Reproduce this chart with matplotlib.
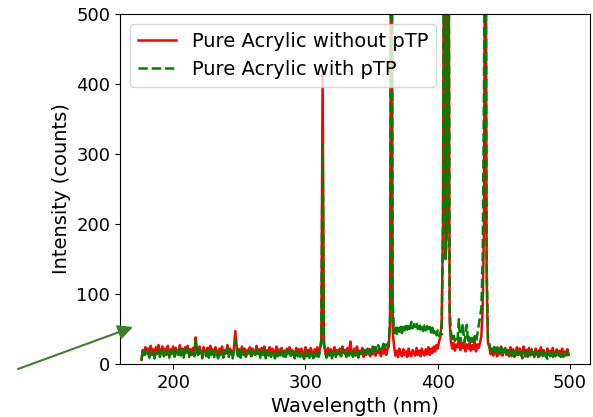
import numpy as np
import matplotlib
matplotlib.use("Agg")
import matplotlib.pyplot as plt

# spectrometer grid, 1 nm steps from 176 to 499 nm
wl_start = 176
wl_stop = 500
wavelength = np.arange(wl_start, wl_stop)
xtick_values = [200, 300, 400, 500]

# Pure acrylic without pTP (counts) (10 nm per row)
without_ptp = [
    6, 20, 13, 24, 15, 22, 12, 26, 17, 21,
    11, 24, 16, 27, 13, 20, 25, 14, 22, 18,
    26, 12, 21, 16, 25, 11, 23, 19, 14, 27,
    15, 22, 12, 24, 18, 26, 13, 21, 16, 23,
    14, 38, 22, 13, 25, 17, 11, 24, 19, 14,
    23, 12, 26, 16, 21, 13, 24, 18, 11, 22,
    17, 25, 12, 20, 15, 27, 13, 22, 18, 11,
    24, 47, 26, 14, 21, 12, 25, 16, 22, 13,
    20, 15, 24, 11, 22, 18, 13, 26, 15, 21,
    12, 23, 17, 25, 11, 20, 16, 24, 13, 22,
    18, 11, 25, 14, 21, 16, 23, 12, 19, 10,
    22, 15, 24, 12, 20, 17, 11, 23, 14, 21,
    13, 22, 16, 10, 24, 15, 20, 12, 23, 17,
    11, 21, 14, 24, 13, 22, 35, 420, 30, 18,
    12, 23, 15, 21, 10, 19, 24, 13, 20, 14,
    22, 11, 25, 16, 20, 12, 23, 15, 32, 17,
    12, 22, 14, 25, 11, 19, 16, 23, 10, 20,
    13, 22, 15, 11, 21, 14, 24, 12, 19, 16,
    22, 11, 20, 15, 24, 13, 21, 25, 60, 900,
    45, 26, 12, 19, 10, 22, 15, 11, 21, 13,
    18, 10, 22, 14, 11, 20, 16, 12, 23, 13,
    19, 11, 22, 15, 12, 21, 14, 24, 13, 22,
    16, 25, 18, 27, 22, 32, 38, 60, 200, 900,
    150, 200, 900, 60, 32, 22, 30, 19, 28, 24,
    35, 20, 30, 23, 33, 18, 28, 22, 30, 19,
    27, 21, 32, 18, 28, 23, 31, 40, 80, 200,
    900, 120, 30, 24, 14, 21, 12, 23, 16, 11,
    22, 14, 25, 12, 19, 23, 13, 20, 11, 24,
    15, 21, 10, 19, 24, 13, 22, 12, 18, 25,
    11, 20, 14, 23, 12, 21, 16, 10, 22, 15,
    19, 11, 24, 13, 20, 15, 10, 22, 14, 19,
    12, 23, 15, 11, 21, 14, 19, 10, 22, 13,
    18, 12, 21, 14,
]

# Pure acrylic with pTP (counts)
with_ptp = [
    5, 16, 10, 19, 12, 17, 9, 20, 13, 18,
    8, 19, 14, 21, 10, 17, 22, 11, 18, 13,
    20, 9, 17, 12, 21, 8, 18, 15, 10, 22,
    12, 19, 9, 20, 14, 22, 10, 17, 13, 19,
    11, 33, 18, 10, 21, 13, 8, 19, 15, 11,
    20, 9, 22, 13, 17, 10, 21, 14, 8, 18,
    13, 20, 9, 17, 12, 22, 10, 18, 14, 8,
    19, 34, 22, 11, 18, 9, 21, 13, 17, 10,
    16, 12, 20, 8, 18, 14, 10, 21, 12, 17,
    9, 19, 13, 21, 8, 16, 12, 20, 10, 18,
    14, 8, 20, 11, 17, 12, 19, 9, 16, 7,
    18, 12, 20, 9, 16, 13, 8, 19, 11, 17,
    10, 18, 12, 7, 20, 11, 16, 9, 19, 13,
    8, 17, 11, 20, 10, 18, 30, 313, 28, 15,
    9, 19, 12, 17, 8, 15, 20, 10, 16, 11,
    18, 9, 21, 12, 16, 10, 19, 12, 22, 14,
    10, 19, 12, 21, 9, 17, 14, 20, 13, 19,
    15, 22, 14, 23, 17, 25, 16, 24, 19, 27,
    20, 26, 22, 29, 23, 28, 25, 32, 70, 900,
    90, 44, 52, 43, 55, 46, 53, 44, 57, 48,
    58, 49, 56, 50, 60, 51, 57, 53, 59, 50,
    58, 49, 56, 47, 55, 48, 54, 46, 53, 45,
    52, 44, 50, 41, 48, 40, 45, 42, 200, 900,
    150, 200, 900, 80, 45, 36, 42, 33, 40, 35,
    64, 32, 44, 58, 31, 40, 56, 30, 38, 28,
    37, 29, 40, 31, 43, 55, 66, 80, 150, 400,
    900, 150, 35, 29, 20, 26, 18, 27, 17, 24,
    16, 23, 14, 21, 13, 22, 12, 20, 15, 19,
    11, 20, 13, 18, 9, 19, 12, 17, 8, 18,
    13, 19, 10, 17, 12, 20, 9, 16, 13, 18,
    10, 17, 12, 19, 9, 16, 13, 6, 17, 11,
    18, 10, 16, 12, 19, 9, 15, 11, 17, 10,
    16, 12, 18, 11,
]

fig = plt.figure(figsize=(5.93, 4.17), dpi=100)
ax = fig.add_axes([0.2024, 0.1271, 0.7926, 0.8393])

ax.plot(wavelength, without_ptp, color="red", lw=1.8, label="Pure Acrylic without pTP")
ax.plot(wavelength, with_ptp, color="green", lw=1.8, ls="--", label="Pure Acrylic with pTP")

ax.set_ylim(0, 500)
ax.set_xticks(xtick_values)
ax.set_xlabel("Wavelength (nm)", fontsize=14)
ax.set_ylabel("Intensity (counts)", fontsize=14)
ax.tick_params(labelsize=13)
ax.legend(loc="upper left", fontsize=14)

# arrow pointing at the low-wavelength baseline
ax.annotate("", xy=(133, 90), xytext=(18, 48),
            xycoords="figure pixels", textcoords="figure pixels",
            arrowprops=dict(arrowstyle="-|>", color="#3f7f2a", lw=1.5,
                            mutation_scale=22, shrinkA=0, shrinkB=0),
            annotation_clip=False)

fig.savefig("out.png", dpi=100)
